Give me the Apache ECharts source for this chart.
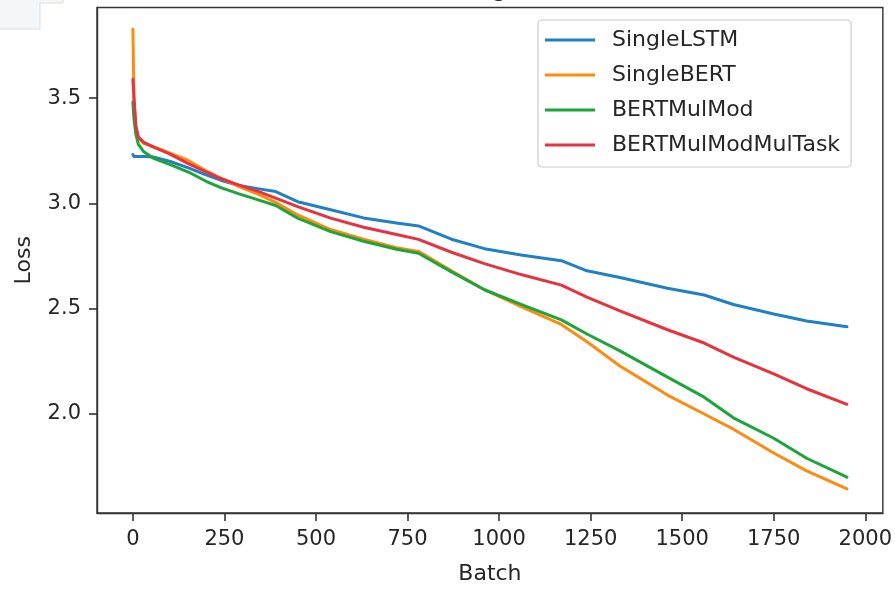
<!DOCTYPE html>
<html>
<head>
<meta charset="utf-8">
<script src="https://cdn.jsdelivr.net/npm/echarts@6/dist/echarts.min.js"></script>
<style>
  html, body { margin: 0; padding: 0; background: #fff; }
  #chart { width: 895px; height: 590px; }
</style>
</head>
<body>
<div id="chart"></div>
<script>
// Training loss per batch for four model variants
const batches = [0, 3, 8, 15, 30, 55, 100, 150, 200, 240, 290, 340, 390, 450, 540, 630, 720, 780, 870, 960, 1060, 1170, 1240, 1330, 1460, 1560, 1640, 1750, 1840, 1950];
const singleLSTM = [3.232, 3.222, 3.222, 3.222, 3.222, 3.220, 3.200, 3.170, 3.135, 3.110, 3.085, 3.070, 3.056, 3.008, 2.970, 2.931, 2.907, 2.893, 2.830, 2.785, 2.755, 2.728, 2.680, 2.648, 2.597, 2.565, 2.520, 2.475, 2.442, 2.414];
const singleBERT = [3.827, 3.500, 3.360, 3.310, 3.285, 3.270, 3.240, 3.205, 3.155, 3.120, 3.080, 3.045, 3.005, 2.945, 2.876, 2.830, 2.790, 2.772, 2.680, 2.590, 2.510, 2.425, 2.343, 2.228, 2.090, 2.000, 1.928, 1.815, 1.730, 1.645];
const bertMulMod = [3.481, 3.400, 3.330, 3.280, 3.245, 3.215, 3.185, 3.150, 3.105, 3.075, 3.045, 3.018, 2.990, 2.930, 2.866, 2.820, 2.782, 2.763, 2.675, 2.590, 2.520, 2.447, 2.380, 2.300, 2.175, 2.080, 1.982, 1.885, 1.790, 1.700];
const bertMulModMulTask = [3.589, 3.500, 3.370, 3.315, 3.290, 3.268, 3.235, 3.190, 3.150, 3.118, 3.087, 3.058, 3.025, 2.985, 2.930, 2.887, 2.852, 2.829, 2.768, 2.714, 2.662, 2.612, 2.555, 2.490, 2.400, 2.337, 2.270, 2.190, 2.120, 2.046];

const seriesNames = ['SingleLSTM', 'SingleBERT', 'BERTMulMod', 'BERTMulModMulTask'];
const seriesValues = [singleLSTM, singleBERT, bertMulMod, bertMulModMulTask];
const seriesColors = ['#1f80c4', '#ff8a10', '#1ca53a', '#e5343f'];

const xTicks = [0, 250, 500, 750, 1000, 1250, 1500, 1750, 2000];
const yTicks = [2.0, 2.5, 3.0, 3.5];

const FONT = 'DejaVu Sans';
const axisColor = '#333333';
const textColor = '#262626';

const chart = echarts.init(document.getElementById('chart'), null, { renderer: 'canvas' });

const option = {
  backgroundColor: '#ffffff',
  animation: false,
  textStyle: { fontFamily: FONT },
  title: {
    text: 'Training Loss',
    left: 490,
    textAlign: 'center',
    top: -21,
    padding: 0,
    textStyle: { fontFamily: FONT, fontSize: 23, lineHeight: 23, fontWeight: 'normal', color: textColor }
  },
  grid: {
    left: 97, top: 7.5, right: 12, bottom: 71.5,
    show: true, borderColor: axisColor, borderWidth: 1.4, backgroundColor: 'transparent'
  },
  legend: {
    left: 538, top: 20,
    orient: 'vertical',
    padding: [9, 11, 11, 7],
    icon: 'rect',
    itemWidth: 50, itemHeight: 3, itemGap: 13,
    backgroundColor: '#ffffff',
    borderColor: '#cccccc', borderWidth: 1.2, borderRadius: 4,
    textStyle: { fontFamily: FONT, fontSize: 22, lineHeight: 22, color: textColor, padding: [0, 0, 0, 12] },
    data: seriesNames
  },
  xAxis: {
    type: 'value',
    min: -98, max: 2048,
    name: 'Batch',
    nameLocation: 'middle',
    nameGap: 50,
    nameTextStyle: { fontFamily: FONT, fontSize: 22, color: textColor },
    axisLine: { show: true, onZero: false, lineStyle: { color: axisColor, width: 1.4 } },
    splitLine: { show: false },
    axisTick: { show: true, inside: false, length: 8, customValues: xTicks, lineStyle: { color: axisColor, width: 1.6 } },
    axisLabel: {
      customValues: xTicks, margin: 16, fontFamily: FONT, fontSize: 21, color: textColor,
      formatter: v => String(v)
    }
  },
  yAxis: {
    type: 'value',
    min: 1.53, max: 3.93,
    name: 'Loss',
    nameLocation: 'middle',
    nameGap: 62,
    nameTextStyle: { fontFamily: FONT, fontSize: 22, color: textColor },
    axisLine: { show: true, onZero: false, lineStyle: { color: axisColor, width: 1.4 } },
    splitLine: { show: false },
    axisTick: { show: true, inside: false, length: 8, customValues: yTicks, lineStyle: { color: axisColor, width: 1.6 } },
    axisLabel: {
      customValues: yTicks, margin: 16, fontFamily: FONT, fontSize: 21, color: textColor,
      formatter: v => v.toFixed(1)
    }
  },
  graphic: [
    {
      type: 'polygon',
      shape: { points: [[-1, -1], [63, -1], [63, 3], [40, 3], [40, 29], [-1, 29]] },
      style: { fill: '#f5f6f8', stroke: '#dcdde0', lineWidth: 1 },
      z: 100
    }
  ],
  series: seriesNames.map((name, i) => ({
    name,
    type: 'line',
    data: batches.map((b, j) => [b, seriesValues[i][j]]),
    showSymbol: false,
    symbol: 'none',
    smooth: false,
    clip: true,
    lineStyle: { color: seriesColors[i], width: 3, join: 'round', cap: 'round' },
    itemStyle: { color: seriesColors[i] }
  }))
};

chart.setOption(option);
</script>
</body>
</html>
